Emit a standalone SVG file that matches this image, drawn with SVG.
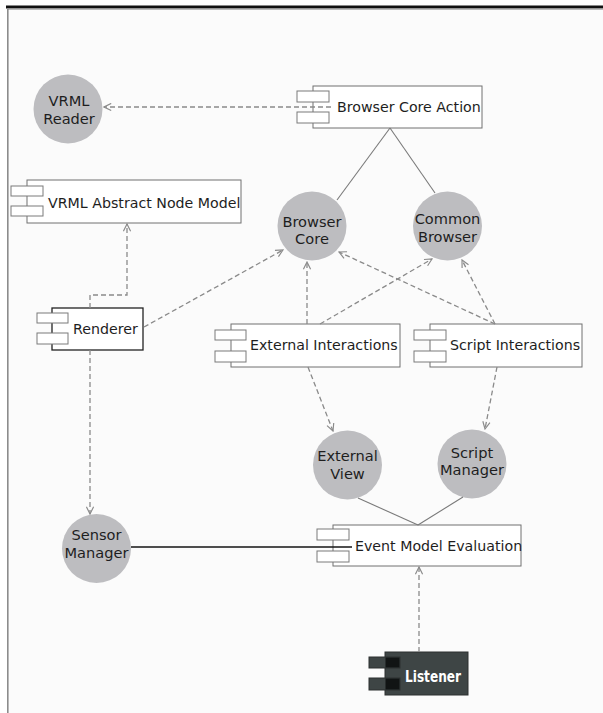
<svg xmlns="http://www.w3.org/2000/svg" width="603" height="713" viewBox="0 0 603 713">
  <defs>
    <style>
      .box{fill:#ffffff;stroke:#707070;stroke-width:1}
      .tab{fill:#ffffff;stroke:#7a7a7a;stroke-width:1}
      .uc{fill:#bdbdc0}
      .lbl{font-family:"DejaVu Sans","Liberation Sans",sans-serif;font-size:14.2px;fill:#1e1e1e}
      .uclbl{font-family:"DejaVu Sans","Liberation Sans",sans-serif;font-size:14.6px;fill:#1e1e1e;text-anchor:middle}
      .dep{stroke:#8a8a8a;stroke-width:1.3;stroke-dasharray:5 3;fill:none;marker-end:url(#open)}
      .assoc{stroke:#7a7a7a;stroke-width:1.1;fill:none}
    </style>
    <marker id="open" viewBox="0 0 10 10" refX="9" refY="5" markerWidth="9" markerHeight="9" orient="auto" markerUnits="userSpaceOnUse">
      <path d="M1,1 L9,5 L1,9" fill="none" stroke="#8a8a8a" stroke-width="1.3"/>
    </marker>
  </defs>

  <!-- window frame -->
  <rect x="0" y="0" width="603" height="713" fill="#ffffff"/>
  <rect x="7" y="9" width="596" height="704" fill="#fbfbfb"/>
  <rect x="6" y="5.5" width="597" height="3" fill="#111111"/>
  <rect x="7" y="8.5" width="596" height="1.2" fill="#a0a0a0"/>
  <rect x="7" y="9" width="1.6" height="704" fill="#8c8c8c"/>

  <!-- use cases -->
  <g id="vrml-reader">
    <circle class="uc" cx="68" cy="109" r="34.5"/>
    <text class="uclbl" x="69" y="106">VRML</text>
    <text class="uclbl" x="69" y="123.5">Reader</text>
  </g>
  <g id="browser-core">
    <circle class="uc" cx="312" cy="226" r="34.5"/>
    <text class="uclbl" x="312" y="226.5">Browser</text>
    <text class="uclbl" x="312" y="244">Core</text>
  </g>
  <g id="common-browser">
    <circle class="uc" cx="447.5" cy="226" r="34.5"/>
    <text class="uclbl" x="447.5" y="224">Common</text>
    <text class="uclbl" x="447.5" y="241.5">Browser</text>
  </g>
  <g id="external-view">
    <circle class="uc" cx="347.5" cy="465" r="34.5"/>
    <text class="uclbl" x="347.5" y="461">External</text>
    <text class="uclbl" x="347.5" y="478.5">View</text>
  </g>
  <g id="script-manager">
    <circle class="uc" cx="472" cy="464" r="34.5"/>
    <text class="uclbl" x="472" y="457.5">Script</text>
    <text class="uclbl" x="472" y="475">Manager</text>
  </g>
  <g id="sensor-manager">
    <circle class="uc" cx="96.5" cy="548.5" r="34.5"/>
    <text class="uclbl" x="96.5" y="540">Sensor</text>
    <text class="uclbl" x="96.5" y="557.5">Manager</text>
  </g>

  <!-- components -->
  <g id="browser-core-action">
    <rect class="box" x="313" y="86" width="169" height="42"/>
    <rect class="tab" x="297" y="91" width="32" height="11"/>
    <rect class="tab" x="297" y="112" width="32" height="11"/>
    <text class="lbl" x="337" y="112">Browser Core Action</text>
  </g>
  <g id="vrml-abstract-node-model">
    <rect class="box" x="27" y="180" width="214" height="43"/>
    <rect class="tab" x="11" y="186" width="32" height="10"/>
    <rect class="tab" x="11" y="206" width="32" height="10"/>
    <text class="lbl" x="48" y="208">VRML Abstract Node Model</text>
  </g>
  <g id="renderer">
    <rect x="52" y="308" width="91" height="42" fill="#ffffff" stroke="#222222" stroke-width="1.3"/>
    <rect class="tab" x="37" y="313" width="31" height="10"/>
    <rect class="tab" x="37" y="333" width="31" height="11"/>
    <text class="lbl" x="73" y="334">Renderer</text>
  </g>
  <g id="external-interactions">
    <rect class="box" x="231" y="324" width="169" height="43"/>
    <rect class="tab" x="215" y="330" width="31" height="10"/>
    <rect class="tab" x="215" y="351" width="31" height="11"/>
    <text class="lbl" x="250" y="350">External Interactions</text>
  </g>
  <g id="script-interactions">
    <rect class="box" x="430" y="324" width="152" height="43"/>
    <rect class="tab" x="414" y="330" width="32" height="10"/>
    <rect class="tab" x="414" y="351" width="32" height="11"/>
    <text class="lbl" x="450" y="350">Script Interactions</text>
  </g>
  <g id="event-model-evaluation">
    <rect class="box" x="333" y="525" width="188" height="41"/>
    <rect class="tab" x="317" y="529" width="32" height="11"/>
    <rect class="tab" x="317" y="551" width="32" height="11"/>
    <text class="lbl" x="355" y="551">Event Model Evaluation</text>
  </g>
  <g id="listener">
    <rect x="385" y="652" width="83" height="43" fill="#3e4545" stroke="#2c3030" stroke-width="1"/>
    <rect x="369" y="657" width="31" height="11" fill="#3e4545" stroke="#2c3030" stroke-width="1"/>
    <rect x="369" y="678" width="31" height="12" fill="#3e4545" stroke="#2c3030" stroke-width="1"/>
    <rect x="385.5" y="657.5" width="14" height="10" fill="#111414"/>
    <rect x="385.5" y="678.5" width="14" height="11" fill="#111414"/>
    <text x="405" y="682" font-family="DejaVu Sans Condensed, DejaVu Sans, sans-serif" font-size="16" font-weight="bold" fill="#ffffff" textLength="56" lengthAdjust="spacingAndGlyphs">Listener</text>
  </g>

  <!-- connectors -->
  <g id="connectors">
    <path class="dep" d="M331,107 H104"/>
    <path class="dep" d="M90,308 V295 H127 V224"/>
    <path class="dep" d="M144,327 L283,250"/>
    <path class="dep" d="M90,350 V514"/>
    <path class="dep" d="M307,324 V262"/>
    <path class="dep" d="M320,324 L432,259"/>
    <path class="dep" d="M495,324 L339,252"/>
    <path class="dep" d="M495,324 L462,260"/>
    <path class="dep" d="M308,367 L333,431"/>
    <path class="dep" d="M497,367 L485,429"/>
    <path class="dep" d="M419,652 V567"/>
    <path class="assoc" d="M390,128 L337,200"/>
    <path class="assoc" d="M390,128 L435,193"/>
    <path class="assoc" d="M358,498 L418,525"/>
    <path class="assoc" d="M463,497 L418,525"/>
    <path d="M131,547 H352" stroke="#151515" stroke-width="1.3" fill="none"/>
  </g>
</svg>
